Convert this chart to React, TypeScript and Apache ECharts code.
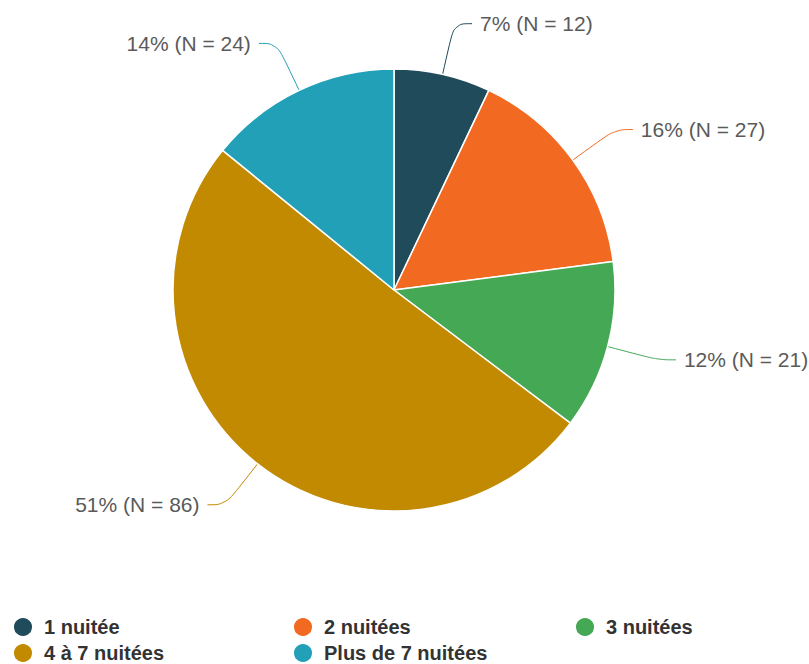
import React, { useEffect, useRef } from "react";
import * as echarts from "echarts";

const categories = ["1 nuitée", "2 nuitées", "3 nuitées", "4 à 7 nuitées", "Plus de 7 nuitées"];
const counts = [12, 27, 21, 86, 24];
const percents = [7, 16, 12, 51, 14];
const colors = ["#204b5a", "#f26a22", "#45a855", "#c28a00", "#22a0b8"];

// legend grid: column and row of each category
const legendCol = [0, 1, 2, 0, 1];
const legendRow = [0, 0, 0, 1, 1];
const legendColLefts = [12, 292, 574];
const legendRowTops = [616, 642];

export default function App() {
  const ref = useRef<HTMLDivElement>(null);
  useEffect(() => {
    if (!ref.current) return;
    const chart = echarts.init(ref.current, undefined, { renderer: "svg" });
    const data = categories.map((name, i) => ({
      name,
      value: counts[i],
      itemStyle: { color: colors[i] },
      labelLine: { lineStyle: { color: colors[i] } },
    }));
    chart.setOption({
      animation: false,
      color: colors,
      legend: categories.map((name, i) => ({
        data: [name],
        orient: "horizontal",
        left: legendColLefts[legendCol[i]],
        top: legendRowTops[legendRow[i]],
        padding: 0,
        icon: "circle",
        itemWidth: 20,
        itemHeight: 20,
        selectedMode: false,
        textStyle: {
          fontFamily: "Liberation Sans, Arial, sans-serif",
          fontSize: 20,
          lineHeight: 20,
          fontWeight: "bold",
          color: "#333333",
          padding: [0, 0, 0, 6],
        },
      })),
      series: [
        {
          type: "pie",
          center: [394, 290],
          radius: 221,
          startAngle: 90,
          clockwise: true,
          data,
          itemStyle: { borderColor: "#ffffff", borderWidth: 1.5 },
          label: {
            show: true,
            position: "outside",
            formatter: (p: any) => `${percents[p.dataIndex]}% (N = ${counts[p.dataIndex]})`,
            fontFamily: "Liberation Sans, Arial, sans-serif",
            fontSize: 21,
            color: "#5a5a5a",
            overflow: "none",
            distanceToLabelLine: 8,
          },
          labelLine: {
            show: true,
            length: 52,
            length2: 18,
            smooth: 0.4,
            lineStyle: { width: 1 },
          },
          emphasis: { disabled: true },
        },
      ],
    });
    return () => chart.dispose();
  }, []);
  return (
    <div
      ref={ref}
      style={{ position: "absolute", left: 0, top: 0, width: 809, height: 664 }}
    />
  );
}
